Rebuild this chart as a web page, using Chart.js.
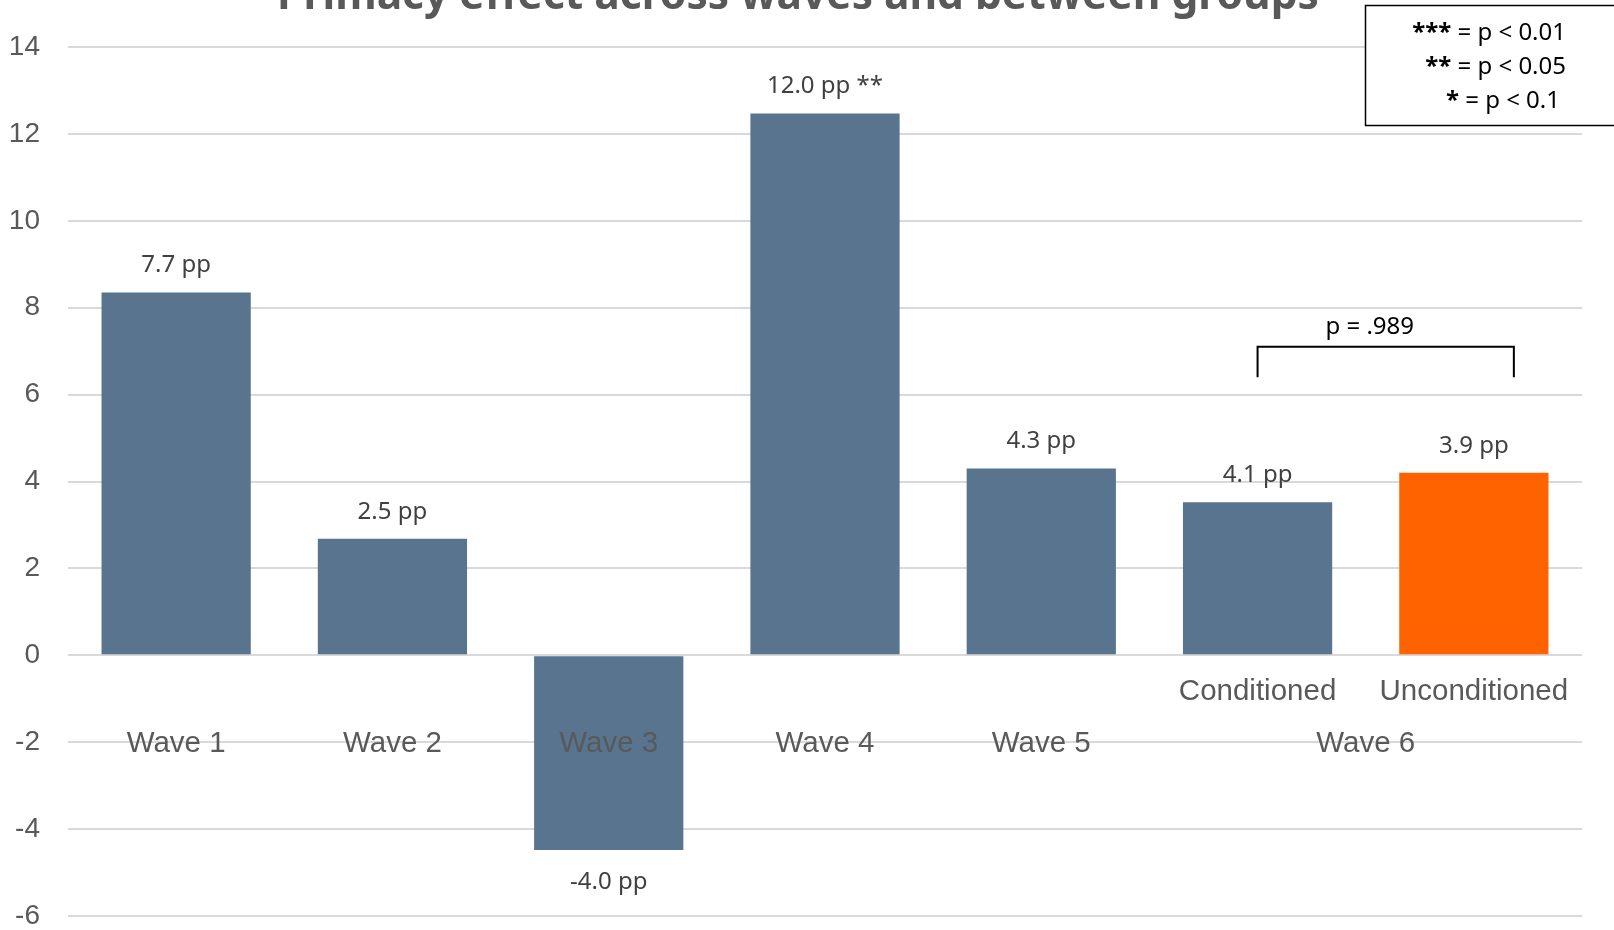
<!DOCTYPE html>
<html>
<head>
<meta charset="utf-8">
<script src="https://cdn.jsdelivr.net/npm/chart.js@4"></script>
<style>
  body { margin: 0; background: #fff; }
  #wrap { width: 1614px; height: 930px; position: relative; }
</style>
</head>
<body>
<div id="wrap"><canvas id="primacyChart"></canvas></div>
<script>
// chart data
const subLabels = ["", "", "", "", "", "Conditioned", "Unconditioned"];
const waveLabels = ["Wave 1", "Wave 2", "Wave 3", "Wave 4", "Wave 5", "Wave 6", "Wave 6"];
const values = [8.35, 2.68, -4.48, 12.47, 4.3, 3.52, 4.2];
const valueLabels = ["7.7 pp", "2.5 pp", "-4.0 pp", "12.0 pp **", "4.3 pp", "4.1 pp", "3.9 pp"];
const barColors = ["#59748f", "#59748f", "#59748f", "#59748f", "#59748f", "#59748f", "#ff6300"];
const yTicks = [-6, -4, -2, 0, 2, 4, 6, 8, 10, 12, 14];
const sigLegend = [["***", " = p < 0.01"], ["**", " = p < 0.05"], ["*", " = p < 0.1"]];
const pairTest = "p = .989";
const title = "Primacy effect across waves and between groups";

// wave label is drawn once when several bars share it
const shared = waveLabels.map((w) => waveLabels.filter((x) => x === w).length > 1);
const tickLabels = subLabels.map((s, i) => [s, shared[i] ? "" : waveLabels[i]]);

const axisFont = { family: "'Liberation Sans', Arial, sans-serif", size: 29.5, lineHeight: "52px" };
const labelFont = "24px 'Noto Sans', sans-serif";

const extras = {
  id: "extras",
  afterDatasetsDraw(chart) {
    const ctx = chart.ctx;
    const meta = chart.getDatasetMeta(0);
    ctx.save();
    ctx.font = labelFont;
    ctx.fillStyle = "#404040";
    ctx.textAlign = "center";
    ctx.textBaseline = "middle";
    meta.data.forEach((bar, i) => {
      const off = values[i] >= 0 ? -27 : 32.5;
      ctx.fillText(valueLabels[i], bar.x, bar.y + off);
    });
    ctx.restore();
  },
  afterDraw(chart) {
    const ctx = chart.ctx;
    const x = chart.scales.x;
    const y = chart.scales.y;
    const zero = y.getPixelForValue(0);
    ctx.save();

    // merged group labels (Wave 6)
    ctx.font = "29.5px 'Liberation Sans', Arial, sans-serif";
    ctx.fillStyle = "#595959";
    ctx.textAlign = "center";
    ctx.textBaseline = "middle";
    const done = {};
    waveLabels.forEach((w, i) => {
      if (!shared[i] || done[w]) return;
      done[w] = true;
      const idx = waveLabels.map((v, j) => (v === w ? j : -1)).filter((j) => j >= 0);
      const cx = (x.getPixelForValue(idx[0]) + x.getPixelForValue(idx[idx.length - 1])) / 2;
      ctx.fillText(w, cx, zero + 88.5);
    });

    // title, mostly cut off at the top
    ctx.font = "bold 42.5px 'Noto Sans', sans-serif";
    ctx.fillStyle = "#595959";
    ctx.textBaseline = "alphabetic";
    ctx.fillText(title, 798, 9);

    // bracket between the two wave 6 bars
    const bx1 = x.getPixelForValue(5);
    const bx2 = x.getPixelForValue(6) + 40;
    const top = y.getPixelForValue(7.1);
    const bot = y.getPixelForValue(6.4);
    ctx.strokeStyle = "#000";
    ctx.lineWidth = 2;
    ctx.beginPath();
    ctx.moveTo(bx1, bot);
    ctx.lineTo(bx1, top);
    ctx.lineTo(bx2, top);
    ctx.lineTo(bx2, bot);
    ctx.stroke();
    ctx.font = labelFont;
    ctx.fillStyle = "#000";
    ctx.textBaseline = "middle";
    ctx.fillText(pairTest, (bx1 + bx2) / 2 - 16, top - 20);

    // significance legend box
    ctx.fillStyle = "#fff";
    ctx.fillRect(1365, 5, 250, 121);
    ctx.lineWidth = 1.5;
    ctx.strokeRect(1365.5, 5.5, 250, 120);
    const rights = [1566, 1566, 1560];
    sigLegend.forEach(([stars, rest], i) => {
      const by = 40 + i * 34;
      ctx.textBaseline = "alphabetic";
      ctx.textAlign = "right";
      ctx.fillStyle = "#000";
      ctx.font = labelFont;
      ctx.fillText(rest, rights[i], by);
      const w = ctx.measureText(rest).width;
      ctx.font = "bold 24px 'Noto Sans', sans-serif";
      ctx.fillText(stars, rights[i] - w, by);
    });
    ctx.restore();
  },
};

new Chart(document.getElementById("primacyChart"), {
  type: "bar",
  data: {
    labels: tickLabels,
    datasets: [
      {
        data: values,
        backgroundColor: barColors,
        barPercentage: 0.69,
        categoryPercentage: 1,
      },
    ],
  },
  options: {
    responsive: true,
    maintainAspectRatio: false,
    animation: false,
    layout: { padding: { top: 47, bottom: 14, left: 0, right: 32 } },
    plugins: {
      legend: { display: false },
      tooltip: { enabled: false },
    },
    scales: {
      x: {
        position: { y: 0 },
        afterFit: (s) => {
          s.height = 0;
        },
        grid: { display: false, drawTicks: false },
        border: { display: false },
        ticks: {
          z: 1,
          padding: 10.5,
          autoSkip: false,
          maxRotation: 0,
          color: "#595959",
          font: axisFont,
        },
      },
      y: {
        min: -6,
        max: 14,
        afterFit: (s) => {
          s.width = 68;
          s.paddingTop = 0;
          s.paddingBottom = 0;
        },
        afterBuildTicks: (s) => {
          s.ticks = yTicks.map((v) => ({ value: v }));
        },
        grid: { color: "#d9d9d9", lineWidth: 2, drawTicks: false },
        border: { display: false },
        ticks: {
          padding: 28,
          color: "#595959",
          font: { family: "'Liberation Sans', Arial, sans-serif", size: 28 },
        },
      },
    },
  },
  plugins: [extras],
});
</script>
</body>
</html>
